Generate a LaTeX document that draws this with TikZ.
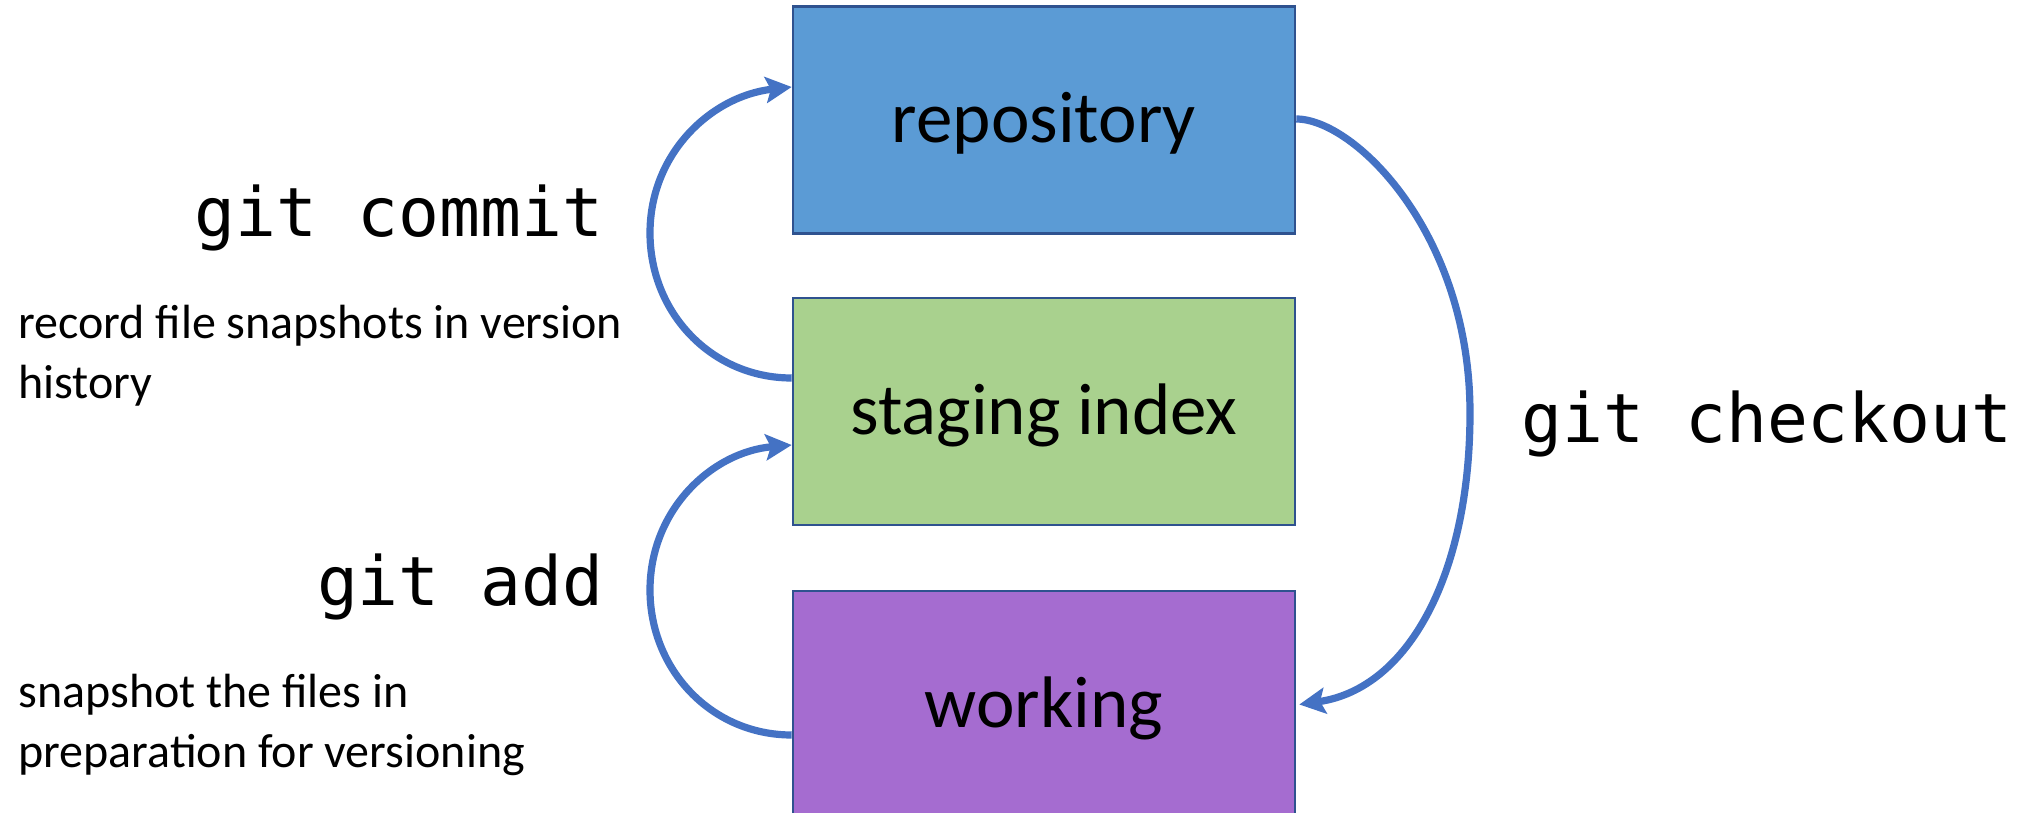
\documentclass[tikz,border=0pt]{standalone}
\usepackage{fontspec}
\setmainfont{Carlito}
\newfontfamily\codefont{DejaVu Sans Mono}
\usetikzlibrary{arrows.meta,calc}
\definecolor{repofill}{HTML}{5B9BD5}
\definecolor{stagefill}{HTML}{A9D18E}
\definecolor{workfill}{HTML}{A56CD0}
\definecolor{boxline}{HTML}{2F528F}
\definecolor{arrowblue}{HTML}{4472C4}
\begin{document}
\begin{tikzpicture}[x=0.5pt,y=-0.5pt,
  areabox/.style={draw=boxline, line width=1.3pt, minimum width=251pt, minimum height=113.5pt, inner sep=0pt, text height=23pt, text depth=0pt, font=\fontsize{36.5}{43}\selectfont},
  cmd/.style={inner sep=0pt, font=\codefont\fontsize{34}{40}\selectfont},
  desc/.style={inner sep=0pt, anchor=base west, font=\fontsize{24}{30}\selectfont},
  flow/.style={draw=arrowblue, line width=3.6pt, -{Stealth[length=13pt,width=13pt,inset=2.5pt]}}]
\path[use as bounding box] (0,0) rectangle (2031,813);
\clip (0,0) rectangle (2031,813);

\node[areabox, fill=repofill] (repo) at (1044,120) {repository};
\node[areabox, fill=stagefill] (stage) at (1044,411.5) {staging index};
\node[areabox, fill=workfill] (work) at (1044,704.5) {working};

\coordinate (cm) at (650,233);
\coordinate (am) at (650,590);
\coordinate (km) at (1470,413);

\draw[flow] ($(stage.west)+(0,-33.5)$) .. controls +(-80,0) and +(0,80) .. (cm) .. controls +(0,-80) and +(-80,9) .. ($(repo.west)+(0,-33)$);
\draw[flow] ($(work.west)+(0,30.5)$) .. controls +(-80,0) and +(0,80) .. (am) .. controls +(0,-80) and +(-80,7) .. ($(stage.west)+(0,33.5)$);
\draw[flow] ($(repo.east)+(0,-1)$) .. controls +(58,0) and +(0,-180) .. (km) .. controls +(0,160) and +(110,-16) .. ($(work.east)+(3,0)$);

\node[cmd, anchor=base east] (commit) at (604,236) {git commit};
\node[cmd, anchor=base east] (add) at (604,605) {git add};
\node[cmd, anchor=base west] (checkout) at (1521,442) {git checkout};

\node[desc] (d1a) at (18,338) {record file snapshots in version};
\node[desc] (d1b) at (18,398) {history};
\node[desc] (d2a) at (18,707) {snapshot the files in};
\node[desc] (d2b) at (18,767) {preparation for versioning};
\end{tikzpicture}
\end{document}
